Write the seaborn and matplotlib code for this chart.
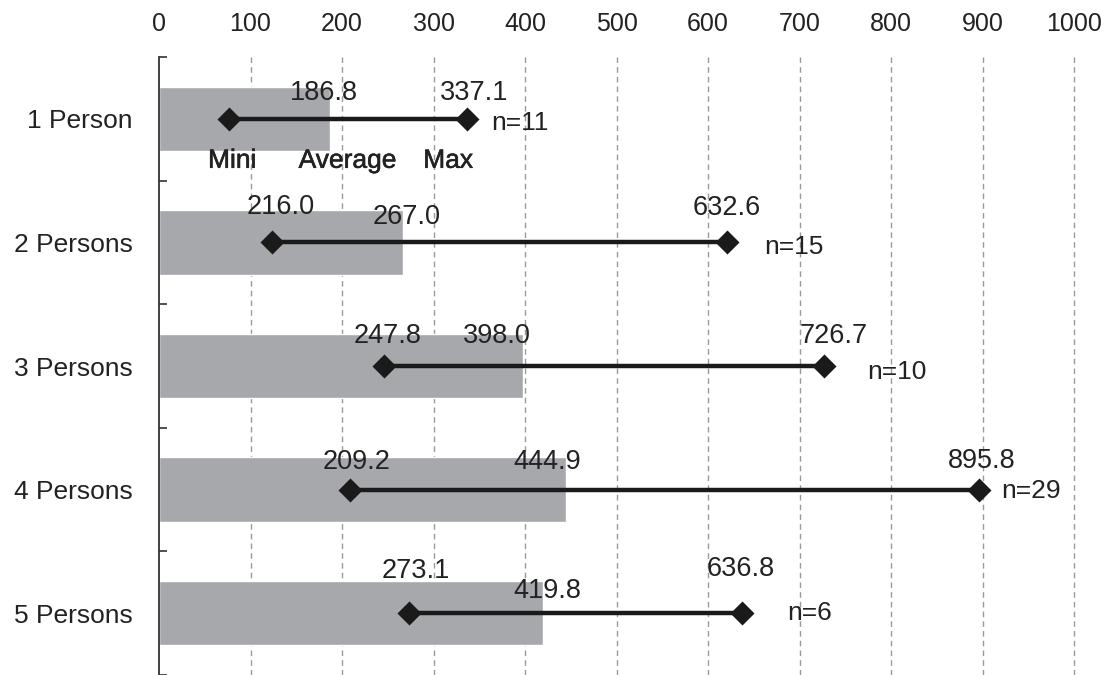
import matplotlib
matplotlib.use("Agg")
import matplotlib.pyplot as plt
import matplotlib.patheffects as pe
import numpy as np
import pandas as pd
import seaborn as sns

sns.set_style("white")
plt.rcParams["font.family"] = ["Liberation Sans", "DejaVu Sans"]

# data
categories = ["1 Person", "2 Persons", "3 Persons", "4 Persons", "5 Persons"]
averages = [186.8, 267.0, 398.0, 444.9, 419.8]
minimums = [77.0, 123.5, 246.0, 209.0, 273.0]
maximums = [337.1, 621.0, 726.7, 895.8, 636.8]
min_labels = ["", "216.0", "247.8", "209.2", "273.1"]
avg_labels = ["186.8", "267.0", "398.0", "444.9", "419.8"]
max_labels = ["337.1", "632.6", "726.7", "895.8", "636.8"]
counts = [11, 15, 10, 29, 6]
x_ticks = [0, 100, 200, 300, 400, 500, 600, 700, 800, 900, 1000]

# label offsets in pixels (dx, dy) relative to the mark
min_off = [(0, 0), (9, 35), (3, 30), (6, 28), (7, 42)]
avg_off = [(-6, 26), (3, 25), (-26, 30), (-19, 28), (4, 22)]
max_off = [(7, 26), (0, 34), (10, 30), (3, 29), (-1, 44)]
n_off = [(24, -4), (37, -5), (43, -6), (23, -1), (46, 0)]

TEXT = "#222222"
df = pd.DataFrame({"cat": categories, "avg": averages})

fig = plt.figure(figsize=(11.1, 6.75), dpi=100)
ax = fig.add_axes([159 / 1110, 0.0, (1074 - 159) / 1110, 618 / 675])

sns.barplot(data=df, x="avg", y="cat", orient="h", color="#A7A8AC",
            width=0.52, saturation=1, ax=ax, zorder=2)

ypos = np.arange(len(categories))
for i in ypos:
    ax.plot([minimums[i], maximums[i]], [i, i], color="#1a1a1a", lw=3.2,
            zorder=3, solid_capstyle="butt")
ax.scatter(minimums, ypos, marker="D", s=150, color="#1a1a1a", zorder=4, linewidths=0)
ax.scatter(maximums, ypos, marker="D", s=150, color="#1a1a1a", zorder=4, linewidths=0)


def put(txt, x, y, off, ha="center", va="center", size=19.5):
    ax.annotate(txt, (x, y), xytext=(off[0], off[1]), textcoords="offset pixels",
                ha=ha, va=va, fontsize=size, color=TEXT, zorder=5)


for i in ypos:
    if min_labels[i]:
        put(min_labels[i], minimums[i], i, min_off[i])
    put(avg_labels[i], averages[i], i, avg_off[i])
    put(max_labels[i], maximums[i], i, max_off[i])
    put(f"n={counts[i]}", maximums[i], i, n_off[i], ha="left", size=19)

# legend-like captions under the first row
for txt, xv in [("Mini", 80), ("Average", 206), ("Max", 316)]:
    ax.annotate(txt, (xv, 0), xytext=(0, -42), textcoords="offset pixels",
                ha="center", va="center", fontsize=19, color=TEXT, zorder=5,
                path_effects=[pe.withStroke(linewidth=0.4, foreground=TEXT)])

ax.set_xlim(0, 1000)
ax.set_ylim(4.5, -0.5)
ax.set_xticks(x_ticks)
ax.set_xticklabels([str(t) for t in x_ticks])
ax.xaxis.tick_top()
ax.tick_params(axis="x", top=True, length=0, pad=15, labelsize=18, labelcolor=TEXT)
ax.set_yticks(ypos)
ax.set_yticklabels(categories)
ax.tick_params(axis="y", which="major", left=True, length=0, pad=19, labelsize=19, labelcolor=TEXT)
ax.set_yticks(np.arange(len(categories) + 1) - 0.5, minor=True)
ax.tick_params(axis="y", which="minor", left=True, direction="in", length=6, width=1.2, color="#333333")
ax.set_xlabel("")
ax.set_ylabel("")

ax.grid(False)
for xv in x_ticks[1:]:
    ax.axvline(xv, color="#9a9a9a", lw=1, linestyle=(0, (4, 3)), zorder=1, clip_on=False)

for s in ["top", "right", "bottom"]:
    ax.spines[s].set_visible(False)
ax.spines["left"].set_color("#333333")
ax.spines["left"].set_linewidth(1.3)

fig.savefig("out.png", dpi=100)
